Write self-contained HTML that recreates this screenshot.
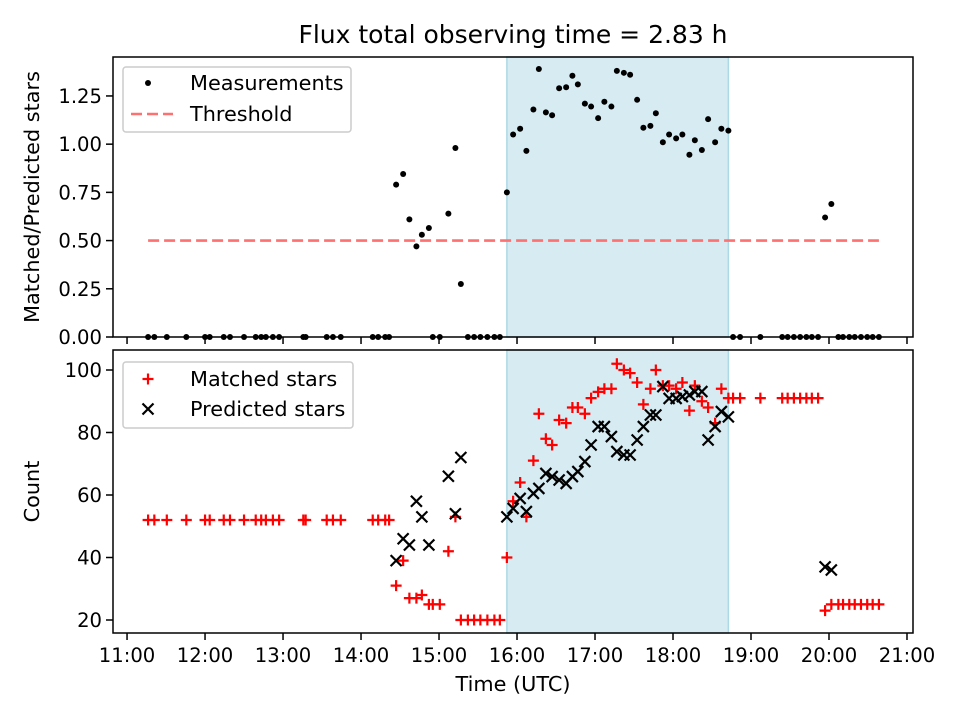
<!DOCTYPE html>
<html><head><meta charset="utf-8"><style>
body{margin:0;background:#fff;}
svg text{font-family:"DejaVu Sans","Liberation Sans",sans-serif;fill:#000;}
</style></head><body>
<svg id="c" width="960" height="720" xmlns="http://www.w3.org/2000/svg"></svg>
<script>
const times=[11.27,11.35,11.51,11.76,12.00,12.06,12.24,12.32,12.50,12.65,12.72,12.78,12.87,12.95,13.26,13.29,13.56,13.64,13.74,14.15,14.22,14.31,14.36,
14.45,14.54,14.62,14.71,14.78,14.87,14.92,15.01,15.12,15.21,15.28,15.37,15.45,15.53,15.62,15.71,15.78,15.87,
15.95,16.04,16.12,16.21,16.28,16.37,16.45,16.54,16.63,16.71,16.78,16.87,16.95,17.04,17.12,17.21,17.28,17.37,17.45,17.54,17.62,17.71,17.78,17.87,17.95,18.04,18.12,18.21,18.28,18.37,18.45,18.54,18.62,18.71,
18.77,18.86,19.12,19.40,19.47,19.55,19.63,19.71,19.78,19.86,19.95,20.03,20.12,20.18,20.26,20.33,20.41,20.49,20.56,20.64];
const ratio=[0,0,0,0,0,0,0,0,0,0,0,0,0,0,0,0,0,0,0,0,0,0,0,
0.79,0.845,0.61,0.47,0.53,0.565,0,0,0.64,0.98,0.275,0,0,0,0,0,0,0.75,
1.05,1.08,0.965,1.18,1.39,1.165,1.15,1.29,1.295,1.355,1.31,1.21,1.195,1.135,1.22,1.195,1.38,1.37,1.36,1.23,1.085,1.095,1.16,1.01,1.05,1.03,1.05,0.945,1.02,0.97,1.13,1.01,1.08,1.07,
0,0,0,0,0,0,0,0,0,0,0.62,0.69,0,0,0,0,0,0,0,0];
const matched=[52,52,52,52,52,52,52,52,52,52,52,52,52,52,52,52,52,52,52,52,52,52,52,
31,39,27,27,28,25,25,25,42,53,20,20,20,20,20,20,20,40,
58,64,53,71,86,78,76,84,83,88,88,86,91,93,94,94,102,100,99,96,89,94,100,95,95,94,96,87,95,90,88,83,94,91,
91,91,91,91,91,91,91,91,91,91,23,25,25,25,25,25,25,25,25,25];
const predicted=[null,null,null,null,null,null,null,null,null,null,null,null,null,null,null,null,null,null,null,null,null,null,null,
39,46,44,58,53,44,null,null,66,54,72,null,null,null,null,null,null,53,
55.7,58.9,54.7,60.5,62.1,66.9,65.9,64.8,63.7,65.9,67.5,70.7,76,81.9,81.9,78.7,73.9,72.8,72.8,77.6,81.9,85.6,85.6,94.7,90.9,90.9,91.5,92,93.1,93.1,77.6,81.9,86.7,85,
null,null,null,null,null,null,null,null,null,null,37,36,null,null,null,null,null,null,null,null];
const xTickLabels=["11:00","12:00","13:00","14:00","15:00","16:00","17:00","18:00","19:00","20:00","21:00"];
const xTickVals=[11,12,13,14,15,16,17,18,19,20,21];
const topYTicks=[0,0.25,0.5,0.75,1.0,1.25];
const topYLabels=["0.00","0.25","0.50","0.75","1.00","1.25"];
const botYTicks=[20,40,60,80,100];
const threshold=0.5;
const shadeStart=15.87, shadeEnd=18.71;

const svg=document.getElementById('c');
const NS="http://www.w3.org/2000/svg";
function el(tag,attrs,parent){const e=document.createElementNS(NS,tag);for(const k in attrs)e.setAttribute(k,attrs[k]);(parent||svg).appendChild(e);return e;}
const FS=20.8, TFS=19.6;
const L=113,R=913;
const X=t=>L+(t-10.82)/(21.077-10.82)*(R-L);
const T={top:57,bot:337,min:0,max:1.452};
const B={top:350,bot:633,min:15.84,max:106.4};
const Yt=v=>T.bot-(v-T.min)/(T.max-T.min)*(T.bot-T.top);
const Yb=v=>B.bot-(v-B.min)/(B.max-B.min)*(B.bot-B.top);

el('rect',{x:0,y:0,width:960,height:720,fill:'#fff'});
const title=el('text',{x:513,y:43,'text-anchor':'middle','font-size':25});
title.textContent='Flux total observing time = 2.83 h';



function panel(P,Y,ticks,labels,name,ylabel){
  const g=el('g',{});
  
  
  const sh=el('rect',{x:X(shadeStart),y:P.top,width:X(shadeEnd)-X(shadeStart),height:P.bot-P.top,fill:'#add8e6','fill-opacity':0.5,stroke:'#add8e6','stroke-width':1.5},g);
  
  
  ticks.forEach((v,i)=>{
    el('line',{x1:L-7,x2:L,y1:Y(v),y2:Y(v),stroke:'#000','stroke-width':1.5},g);
    const t=el('text',{x:L-11,y:Y(v)+7,'text-anchor':'end','font-size':TFS},g);
    t.textContent=labels[i];
    
    
  });
  xTickVals.forEach(v=>{el('line',{x1:X(v),x2:X(v),y1:P.bot,y2:P.bot+7,stroke:'#000','stroke-width':1.5},g);});
  const yl=el('text',{transform:`translate(39,${(P.top+P.bot)/2}) rotate(-90)`,'text-anchor':'middle','font-size':FS},g);
  yl.textContent=ylabel;
  
  
  return g;
}
const gt=panel(T,Yt,topYTicks,topYLabels,'top-panel','Matched/Predicted stars');
const gb=panel(B,Yb,botYTicks,botYTicks.map(String),'bottom-panel','Count');

const th=el('line',{x1:X(times[0]),x2:X(times[times.length-1]),y1:Yt(threshold),y2:Yt(threshold),stroke:'#ff7070','stroke-width':2.6,'stroke-dasharray':'11,5'},gt);


times.forEach((t,i)=>{
  const c=el('circle',{cx:X(t),cy:Yt(ratio[i]),r:3,fill:'#000'},gt);
  
  
});
times.forEach((t,i)=>{
  const x=X(t),y=Yb(matched[i]);
  const p=el('path',{d:`M${x-5.5} ${y}H${x+5.5}M${x} ${y-5.5}V${y+5.5}`,stroke:'#f00','stroke-width':2.2},gb);
  
  
});
times.forEach((t,i)=>{
  if(predicted[i]==null)return;
  const x=X(t),y=Yb(predicted[i]);
  const p=el('path',{d:`M${x-5.5} ${y-5.5}L${x+5.5} ${y+5.5}M${x-5.5} ${y+5.5}L${x+5.5} ${y-5.5}`,stroke:'#000','stroke-width':2.2},gb);
  
  
});
[T,B].forEach(P=>el('rect',{x:L,y:P.top,width:R-L,height:P.bot-P.top,fill:'none',stroke:'#000','stroke-width':1.5}));
xTickVals.forEach((v,i)=>{
  const t=el('text',{x:X(v),y:662,'text-anchor':'middle','font-size':TFS});
  t.textContent=xTickLabels[i];
  
  
});
const xl=el('text',{x:513,y:691,'text-anchor':'middle','font-size':FS});
xl.textContent='Time (UTC)';



const lg1=el('g',{});


el('rect',{x:123,y:67,width:228,height:65,rx:3,fill:'#fff','fill-opacity':0.85,stroke:'#ccc','stroke-width':1.5},lg1);
el('circle',{cx:148,cy:83,r:3,fill:'#000'},lg1);
let t1=el('text',{x:190,y:90,'font-size':FS},lg1);t1.textContent='Measurements';
el('line',{x1:131,x2:173,y1:114,y2:114,stroke:'#ff7070','stroke-width':2.6,'stroke-dasharray':'11,5'},lg1);
let t2=el('text',{x:190,y:121,'font-size':FS},lg1);t2.textContent='Threshold';

const lg2=el('g',{});


el('rect',{x:123,y:362,width:230,height:66,rx:3,fill:'#fff','fill-opacity':0.85,stroke:'#ccc','stroke-width':1.5},lg2);
el('path',{d:'M142.5 379H153.5M148 373.5V384.5',stroke:'#f00','stroke-width':2.2},lg2);
let t3=el('text',{x:190,y:386,'font-size':FS},lg2);t3.textContent='Matched stars';
el('path',{d:'M142.5 403.5L153.5 414.5M142.5 414.5L153.5 403.5',stroke:'#000','stroke-width':2.2},lg2);
let t4=el('text',{x:190,y:416,'font-size':FS},lg2);t4.textContent='Predicted stars';
</script>
</body></html>
